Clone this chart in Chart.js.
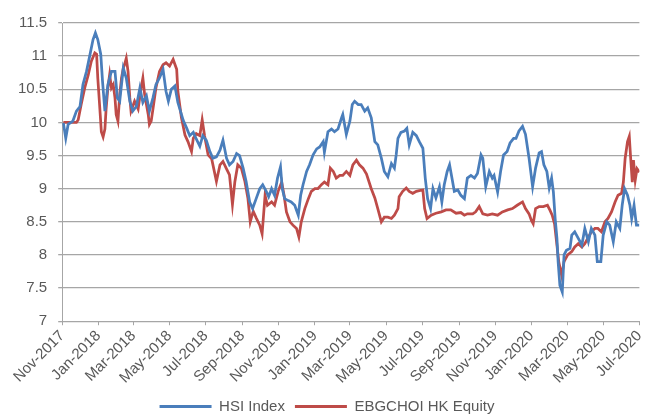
<!DOCTYPE html>
<html>
<head>
<meta charset="utf-8">
<script src="https://cdn.jsdelivr.net/npm/chart.js@4"></script>
<style>
  html, body { margin: 0; padding: 0; background: #fff; }
</style>
</head>
<body>
<canvas id="perfChart" width="653" height="416"></canvas>
<script>
// x axis ticks, every two months
const tickLabels = ['Nov-2017', 'Jan-2018', 'Mar-2018', 'May-2018', 'Jul-2018', 'Sep-2018',
  'Nov-2018', 'Jan-2019', 'Mar-2019', 'May-2019', 'Jul-2019', 'Sep-2019', 'Nov-2019',
  'Jan-2020', 'Mar-2020', 'May-2020', 'Jul-2020'];
const tickDates = ['2017-11-01', '2018-01-01', '2018-03-01', '2018-05-01', '2018-07-01', '2018-09-01',
  '2018-11-01', '2019-01-01', '2019-03-01', '2019-05-01', '2019-07-01', '2019-09-01', '2019-11-01',
  '2020-01-01', '2020-03-01', '2020-05-01', '2020-07-01'];

// HSI Index (rebased), days after 1 Nov 2017
const hsiDay = [2, 6, 10, 18, 24, 30, 35, 41, 47, 52, 56, 60, 65, 68, 72, 77, 83, 89, 93, 97,
  103, 108, 114, 119, 125, 131, 136, 142, 147, 153, 158, 164, 170, 175, 179, 184, 190, 195, 200, 204,
  210, 215, 221, 226, 232, 237, 243, 249, 254, 260, 266, 271, 277, 282, 288, 294, 299, 305, 310, 316,
  321, 327, 333, 338, 344, 348, 353, 358, 363, 368, 371, 375, 381, 386, 392, 398, 402, 406, 412, 417,
  423, 429, 434, 440, 442, 448, 454, 459, 465, 471, 473, 479, 485, 489, 493, 499, 504, 510, 515, 521,
  527, 532, 538, 543, 549, 555, 560, 563, 566, 571, 577, 581, 585, 591, 597, 602, 608, 612, 616, 621,
  625, 630, 636, 640, 644, 649, 653, 657, 661, 667, 672, 678, 683, 689, 695, 700, 706, 709, 714, 720,
  725, 728, 734, 739, 744, 750, 755, 761, 765, 770, 776, 781, 787, 793, 798, 804, 808, 812, 817, 821,
  825, 828, 831, 834, 836, 839, 843, 846, 850, 856, 859, 864, 870, 876, 881, 887, 892, 898, 902, 908,
  912, 918, 923, 929, 934, 940, 944, 948, 953, 957, 960, 964, 968, 973];
const hsi = [9.99, 9.76, 9.97, 10.02, 10.17, 10.24, 10.57, 10.77, 11.03, 11.25,
  11.35, 11.25, 11.03, 10.62, 10.17, 10.57, 10.77, 10.77, 10.37, 10.32,
  10.82, 10.67, 10.32, 10.17, 10.24, 10.52, 10.3, 10.4, 10.17, 10.37,
  10.57, 10.67, 10.8, 10.47, 10.32, 10.5, 10.55, 10.3, 10.15, 10.03,
  9.91, 9.8, 9.85, 9.75, 9.64, 9.8, 9.73, 9.56, 9.46, 9.48,
  9.58, 9.73, 9.46, 9.36, 9.41, 9.53, 9.5, 9.31, 9.11, 8.8,
  8.7, 8.85, 9.0, 9.06, 8.96, 8.88, 9.0, 8.9, 9.16, 9.33,
  9.0, 8.85, 8.82, 8.8, 8.75, 8.6, 8.9, 9.06, 9.26, 9.36,
  9.51, 9.6, 9.63, 9.71, 9.55, 9.86, 9.9, 9.86, 9.9, 10.07,
  10.12, 9.82, 10.02, 10.27, 10.32, 10.27, 10.27, 10.17, 10.22, 10.07,
  9.71, 9.66, 9.46, 9.26, 9.18, 9.38, 9.31, 9.51, 9.76, 9.85,
  9.87, 9.91, 9.66, 9.85, 9.8, 9.71, 9.61, 9.16, 8.85, 8.7,
  9.0, 8.86, 9.03, 8.8, 9.06, 9.26, 9.36, 9.16, 8.96, 8.98,
  8.9, 8.85, 9.16, 9.2, 9.16, 9.23, 9.51, 9.46, 9.03, 9.26,
  9.16, 9.2, 8.95, 9.26, 9.51, 9.56, 9.69, 9.76, 9.76, 9.87,
  9.94, 9.82, 9.46, 9.03, 9.31, 9.54, 9.56, 9.36, 9.26, 9.01,
  9.16, 8.95, 8.55, 8.25, 7.9, 7.54, 7.44, 8.0, 8.07, 8.1,
  8.3, 8.35, 8.25, 8.15, 8.4, 8.2, 8.4, 8.3, 7.9, 7.9,
  8.3, 8.5, 8.45, 8.2, 8.5, 8.4, 8.75, 9.0, 8.9, 8.75,
  8.55, 8.75, 8.45, 8.45];

// EBGCHOI HK Equity, days after 1 Nov 2017
const ebgDay = [2, 10, 18, 24, 27, 32, 38, 44, 49, 55, 58, 60, 63, 66, 69, 72, 74, 77, 80, 83,
  86, 89, 91, 94, 97, 100, 103, 105, 108, 111, 114, 116, 122, 128, 133, 136, 139, 145, 147, 150,
  153, 158, 164, 170, 175, 181, 187, 193, 195, 201, 207, 212, 218, 221, 226, 232, 236, 240, 246, 252,
  260, 266, 271, 277, 282, 287, 291, 296, 302, 308, 313, 317, 322, 327, 333, 337, 342, 346, 353, 358,
  364, 370, 374, 378, 384, 389, 395, 399, 403, 409, 415, 420, 426, 431, 437, 442, 448, 452, 457, 462,
  468, 473, 479, 485, 490, 496, 501, 507, 513, 521, 527, 532, 538, 543, 549, 555, 560, 566, 568, 574,
  580, 585, 591, 597, 602, 608, 611, 615, 622, 630, 639, 647, 655, 664, 672, 678, 683, 692, 697, 703,
  709, 717, 725, 734, 742, 751, 759, 767, 776, 781, 787, 791, 794, 798, 804, 811, 818, 822, 826, 830,
  834, 837, 842, 846, 852, 859, 864, 870, 876, 881, 887, 892, 898, 903, 909, 915, 920, 926, 932, 937,
  943, 946, 949, 953, 956, 958, 961, 963, 966, 969, 973];
const ebg = [10.0, 10.0, 10.0, 10.0, 10.04, 10.27, 10.52, 10.72, 10.92, 11.05,
  11.03, 10.67, 10.27, 9.86, 9.78, 9.9, 10.2, 10.52, 10.72, 10.52,
  10.57, 10.37, 10.12, 10.02, 10.42, 10.67, 10.82, 10.87, 10.97, 10.77,
  10.37, 10.17, 10.32, 10.2, 10.52, 10.67, 10.42, 10.12, 9.97, 10.02,
  10.2, 10.52, 10.77, 10.87, 10.9, 10.85, 10.95, 10.8, 10.47, 10.07,
  9.81, 9.71, 9.56, 9.76, 9.83, 9.8, 10.04, 9.8, 9.51, 9.45,
  9.11, 9.36, 9.41, 9.3, 9.21, 8.76, 9.1, 9.36, 9.31, 9.11,
  8.86, 8.5, 8.66, 8.56, 8.45, 8.32, 8.9, 8.75, 8.8, 8.75,
  8.96, 9.1, 8.9, 8.65, 8.5, 8.45, 8.4, 8.27, 8.5, 8.7,
  8.85, 8.96, 9.0, 9.0, 9.06, 9.1, 9.06, 9.31, 9.26, 9.16,
  9.2, 9.2, 9.26, 9.2, 9.36, 9.43, 9.36, 9.31, 9.22, 9.0,
  8.86, 8.7, 8.5, 8.57, 8.57, 8.55, 8.6, 8.7, 8.88, 8.96,
  9.01, 8.96, 8.93, 8.96, 8.97, 8.98, 8.7, 8.55, 8.6, 8.63,
  8.65, 8.68, 8.68, 8.63, 8.64, 8.6, 8.62, 8.62, 8.65, 8.73,
  8.62, 8.6, 8.62, 8.6, 8.65, 8.68, 8.7, 8.75, 8.8, 8.7,
  8.62, 8.52, 8.47, 8.7, 8.73, 8.73, 8.75, 8.68, 8.6, 8.47,
  8.15, 7.9, 7.69, 7.9, 8.0, 8.05, 8.12, 8.17, 8.12, 8.17,
  8.27, 8.35, 8.4, 8.4, 8.35, 8.5, 8.55, 8.65, 8.8, 8.9,
  8.93, 9.1, 9.46, 9.71, 9.79, 9.5, 9.1, 9.43, 9.13, 9.3,
  9.25];

const start = Date.UTC(2017, 10, 1);
function dayOf(s) {
  const p = s.split('-');
  return Math.round((Date.UTC(+p[0], +p[1] - 1, +p[2]) - start) / 86400000);
}
const tickDays = tickDates.map(dayOf);

function points(days, vals) {
  return days.map((d, i) => ({ x: d, y: vals[i] }));
}

const gridGrey = '#a6a6a6';
const textGrey = '#595959';
const fontFam = '"Liberation Sans", Arial, sans-serif';

const ctx = document.getElementById('perfChart');
new Chart(ctx, {
  type: 'line',
  data: {
    datasets: [{
      label: 'HSI Index',
      data: points(hsiDay, hsi),
      borderColor: '#4a7ebb',
      backgroundColor: '#4a7ebb',
      borderWidth: 2.75,
      pointRadius: 0,
      tension: 0
    }, {
      label: 'EBGCHOI HK Equity',
      data: points(ebgDay, ebg),
      borderColor: '#be4b48',
      backgroundColor: '#be4b48',
      borderWidth: 2.75,
      pointRadius: 0,
      tension: 0
    }]
  },
  options: {
    responsive: false,
    animation: false,
    layout: { padding: { left: 7, right: 6, top: 23, bottom: -8 } },
    plugins: {
      tooltip: { enabled: false },
      legend: {
        position: 'bottom',
        labels: {
          color: textGrey,
          font: { family: fontFam, size: 15 },
          boxWidth: 52,
          boxHeight: 3,
          padding: 10,
          generateLabels: (chart) => {
            const items = Chart.defaults.plugins.legend.labels.generateLabels(chart);
            items.forEach(it => { it.lineWidth = 0; });
            return items;
          }
        }
      }
    },
    scales: {
      x: {
        type: 'linear',
        min: 0,
        max: tickDays[tickDays.length - 1],
        afterBuildTicks: (axis) => {
          axis.ticks = tickDays.map(v => ({ value: v }));
        },
        ticks: {
          color: textGrey,
          font: { family: fontFam, size: 15, lineHeight: 1 },
          minRotation: 45,
          maxRotation: 45,
          padding: 3,
          autoSkip: false,
          callback: (v) => {
            const i = tickDays.indexOf(v);
            return i >= 0 ? tickLabels[i] : '';
          }
        },
        grid: { drawOnChartArea: false, drawTicks: true, tickLength: 4, color: gridGrey },
        border: { color: gridGrey }
      },
      y: {
        min: 7,
        max: 11.5,
        ticks: {
          stepSize: 0.5,
          color: textGrey,
          font: { family: fontFam, size: 15 },
          padding: 11,
          callback: (v) => String(v)
        },
        grid: { color: gridGrey, lineWidth: 1.3, tickLength: 4 },
        border: { color: gridGrey }
      }
    }
  }
});
</script>
</body>
</html>
